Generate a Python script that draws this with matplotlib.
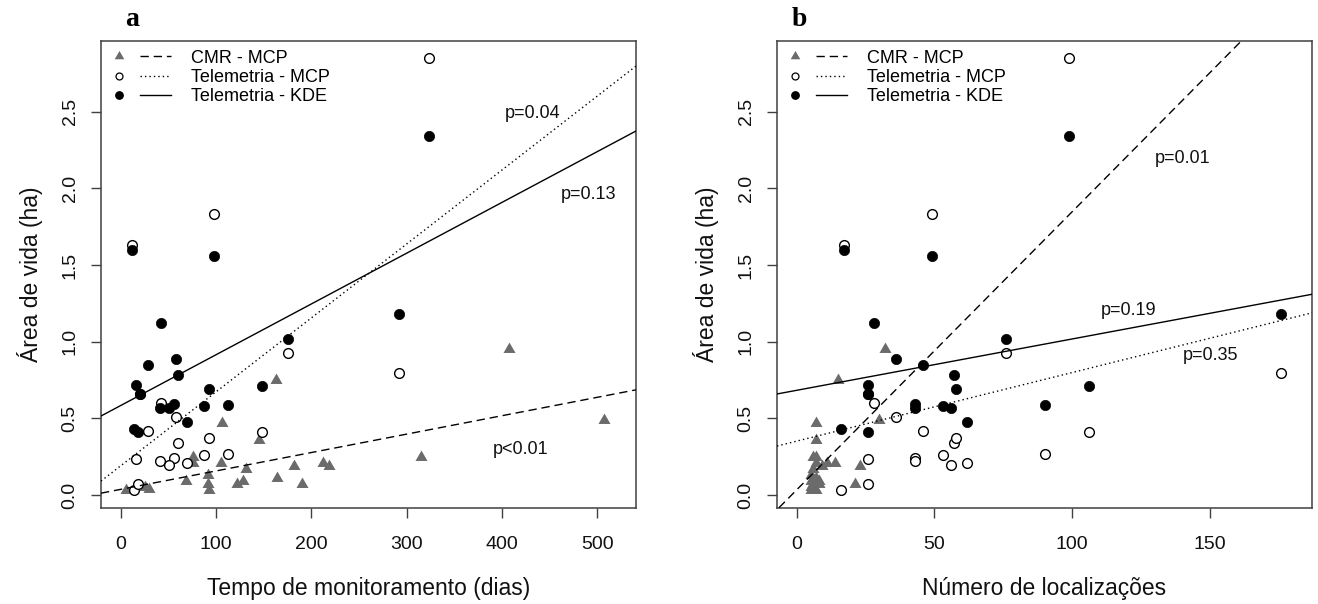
import matplotlib
matplotlib.use("Agg")
import matplotlib.pyplot as plt
from matplotlib.lines import Line2D
from matplotlib.legend_handler import HandlerTuple

plt.rcParams['font.family'] = ['Liberation Sans', 'DejaVu Sans']

# ---------------- data ----------------
# CMR individuals (capture-mark-recapture, MCP area)
cmr_days = [5, 25, 30, 68, 76, 76, 92, 92, 93, 105, 106, 122, 128, 131, 145, 163, 164, 182, 190, 212, 219, 315, 407, 507]
cmr_locs = [5, 5, 6, 5, 6, 14, 5, 21, 7, 11, 7, 6, 8, 6, 7, 15, 7, 23, 8, 7, 9, 7, 32, 30]
cmr_area = [0.033, 0.05, 0.04, 0.09, 0.25, 0.21, 0.13, 0.07, 0.03, 0.21, 0.47, 0.07, 0.09, 0.17, 0.36, 0.75, 0.11, 0.19, 0.07, 0.21, 0.19, 0.25, 0.95, 0.49]

# Telemetry individuals
tel_days = [12, 98, 42, 175, 29, 58, 60, 16, 20, 56, 41, 87, 51, 70, 93, 113, 14, 18.5, 148, 292, 324]
tel_locs = [17, 49, 28, 76, 46, 36, 57, 26, 26, 43, 43, 53, 56, 62, 58, 90, 16, 26, 106, 176, 99]
tel_kde = [1.60, 1.56, 1.12, 1.02, 0.85, 0.885, 0.78, 0.72, 0.66, 0.595, 0.567, 0.58, 0.567, 0.476, 0.69, 0.59, 0.43, 0.413, 0.713, 1.183, 2.342]
tel_mcp = [1.63, 1.835, 0.60, 0.928, 0.42, 0.509, 0.337, 0.235, 0.66, 0.239, 0.224, 0.261, 0.194, 0.211, 0.372, 0.268, 0.031, 0.07, 0.413, 0.798, 2.853]

# Regression lines (CMR-MCP, Telemetria-MCP, Telemetria-KDE): intercepts and slopes
fit_a_intercept = [0.037, 0.191, 0.584]
fit_a_slope = [0.00120, 0.00482, 0.00331]
fit_b_intercept = [0.0345, 0.3515, 0.683]
fit_b_slope = [0.01812, 0.00447, 0.003345]

p_labels_a = ["p<0.01", "p=0.04", "p=0.13"]
p_labels_b = ["p=0.01", "p=0.35", "p=0.19"]

series_labels = ["CMR - MCP", "Telemetria - MCP", "Telemetria - KDE"]
x_ticks_a = [0, 100, 200, 300, 400, 500]
x_ticks_b = [0, 50, 100, 150]
y_ticks = [0.0, 0.5, 1.0, 1.5, 2.0, 2.5]

# ---------------- style ----------------
GRAY = '#6b6b6b'
FRAME = '#404040'
TXT = '#111111'
TRI = (3, 0, 0)
line_styles = [(0, (6, 3.5)), (0, (1, 2.2)), '-']

W, H = 1318, 604
fig = plt.figure(figsize=(W / 100, H / 100), dpi=100)


def px_axes(left, right, top, bottom):
    return fig.add_axes([left / W, 1 - bottom / H, (right - left) / W, (bottom - top) / H])


ax_a = px_axes(101, 636, 40.7, 507.7)
ax_b = px_axes(777, 1312, 40.7, 507.7)


def draw_panel(ax, x_cmr, x_tel, intercepts, slopes, xlim, xticks, xlabel):
    ax.plot(x_cmr, cmr_area, linestyle='none', marker=TRI, ms=10, color=GRAY, mec='none', zorder=3)
    ax.plot(x_tel, tel_mcp, linestyle='none', marker='o', ms=7, mfc='white', mec='black', mew=1.0, zorder=4)
    ax.plot(x_tel, tel_kde, linestyle='none', marker='o', ms=7.4, mfc='black', mec='black', mew=0.5, zorder=5)
    for b0, b1, ls in zip(intercepts, slopes, line_styles):
        ax.axline((0, b0), slope=b1, color='black', lw=1.0, linestyle=ls, zorder=6)

    ax.set_xlim(xlim)
    ax.set_ylim(-0.0828, 2.963)
    ax.set_xticks(xticks)
    ax.set_yticks(y_ticks)
    ax.set_yticklabels([f"{v:.1f}" for v in y_ticks])
    for sp in ax.spines.values():
        sp.set_color(FRAME)
        sp.set_linewidth(1.1)
    ax.tick_params(direction='out', length=7.2, width=1.0, color=FRAME, labelsize=14,
                   labelcolor=TXT)
    ax.tick_params(axis='x', pad=13)
    ax.tick_params(axis='y', pad=9)
    for lab in ax.get_yticklabels():
        lab.set_rotation(90)
        lab.set_va('center')
    ax.set_xlabel(xlabel, fontsize=16.5, color=TXT)
    ax.xaxis.set_label_coords(0.5, -0.173)
    ax.xaxis.label.set_va('center')
    ax.set_ylabel('Área de vida (ha)', fontsize=16.5, color=TXT)
    ax.yaxis.set_label_coords(-71 / 535, 0.5)
    ax.yaxis.label.set_va('center')

    handles = [
        (Line2D([], [], linestyle='none', marker=TRI, ms=8, color=GRAY, mec='none'),
         Line2D([], [], color='black', lw=1.0, linestyle=line_styles[0])),
        (Line2D([], [], linestyle='none', marker='o', ms=5, mfc='white', mec='black', mew=0.9),
         Line2D([], [], color='black', lw=1.0, linestyle=line_styles[1])),
        (Line2D([], [], linestyle='none', marker='o', ms=5.3, mfc='black', mec='black'),
         Line2D([], [], color='black', lw=1.0, linestyle=line_styles[2])),
    ]
    ax.legend(handles, series_labels, loc='upper left', bbox_to_anchor=(3 / 535, 1 - 9 / 467),
              borderaxespad=0, borderpad=0, frameon=False, fontsize=13,
              handlelength=3.7, handletextpad=1.1, labelspacing=0.12,
              handler_map={tuple: HandlerTuple(ndivide=None, pad=0.3)})


draw_panel(ax_a, cmr_days, tel_days, fit_a_intercept, fit_a_slope,
           (-20.8, 540.8), x_ticks_a, 'Tempo de monitoramento (dias)')
draw_panel(ax_b, cmr_locs, tel_locs, fit_b_intercept, fit_b_slope,
           (-7.2, 187.2), x_ticks_b, 'Número de localizações')

# p-value annotations
for s, (x, y) in zip(p_labels_a, [(420, 0.298), (432, 2.485), (491, 1.963)]):
    ax_a.text(x, y, s, fontsize=13, ha='center', va='center', color=TXT)
for s, (x, y) in zip(p_labels_b, [(140.2, 2.196), (150.5, 0.909), (120.4, 1.202)]):
    ax_b.text(x, y, s, fontsize=13, ha='center', va='center', color=TXT)

# panel letters
fig.text(131.7 / W, 1 - 20 / H, 'a', fontsize=20, fontweight='bold', family='Liberation Serif',
         ha='center', va='center')
fig.text(799 / W, 1 - 20 / H, 'b', fontsize=20, fontweight='bold', family='Liberation Serif',
         ha='center', va='center')

fig.savefig('out.png', dpi=100, facecolor='white')
